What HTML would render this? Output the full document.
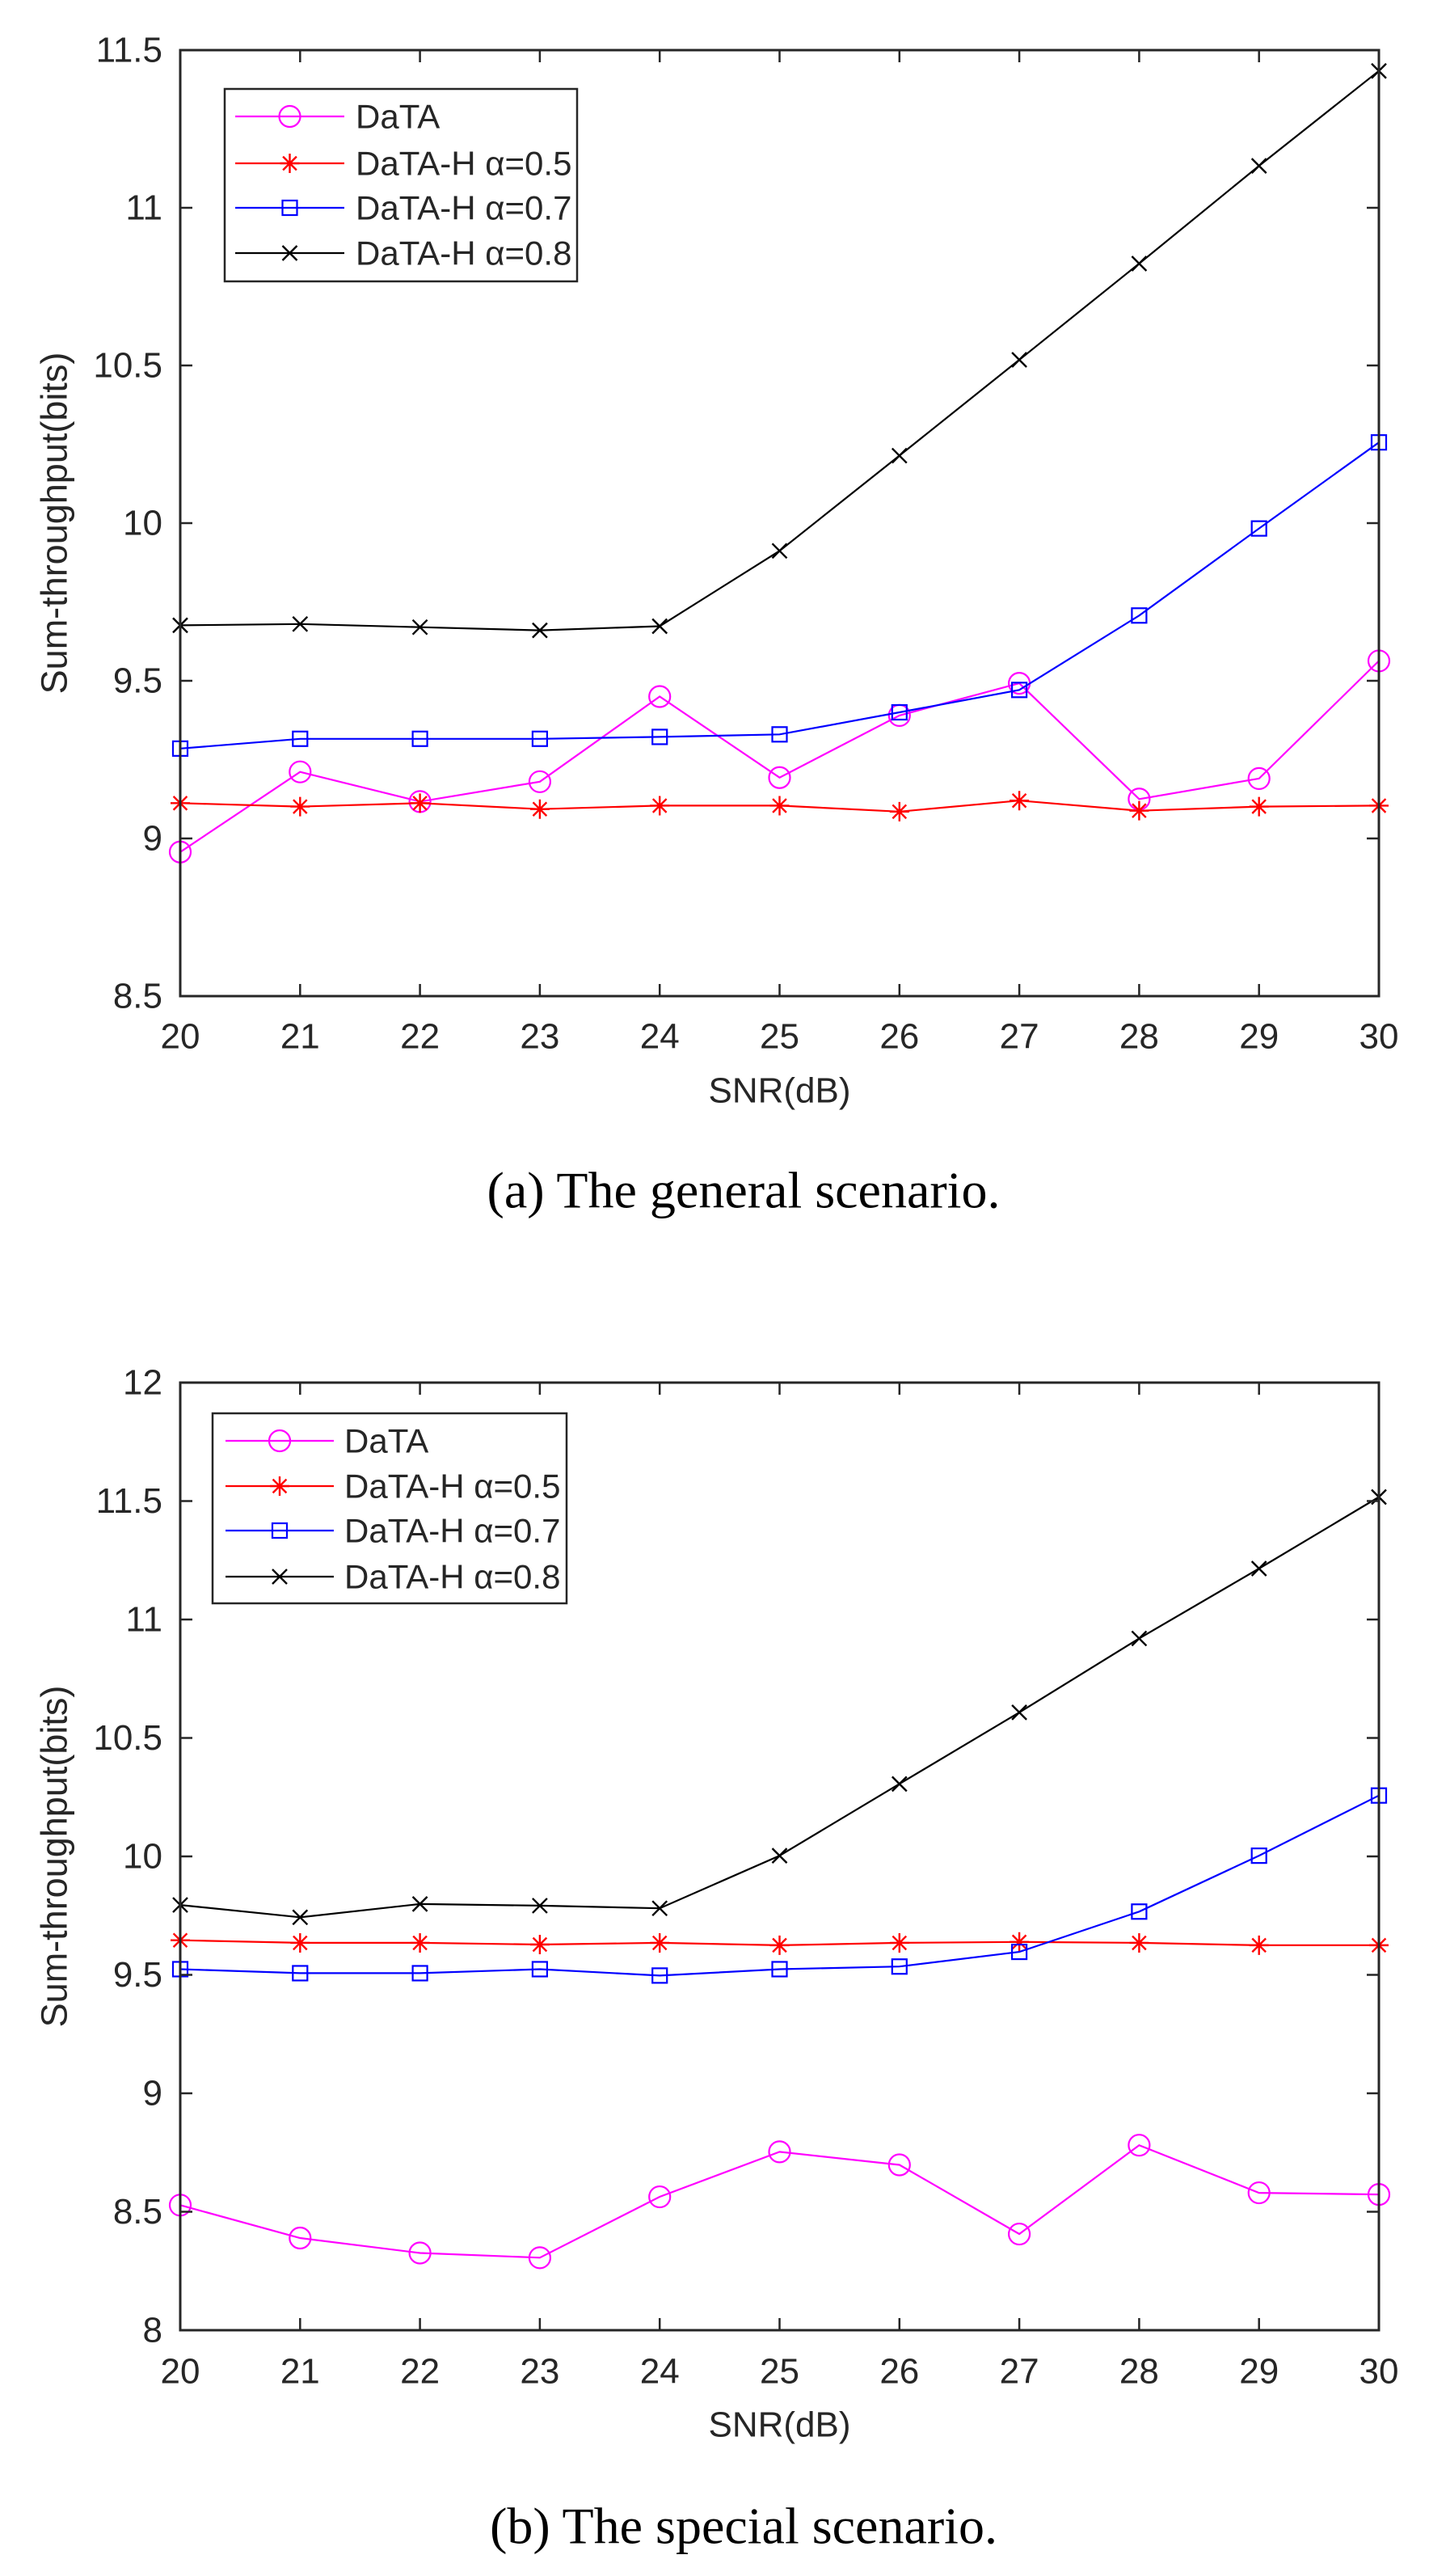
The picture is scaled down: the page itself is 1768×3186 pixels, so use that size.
<!DOCTYPE html>
<html>
<head>
<meta charset="utf-8">
<style>
html,body{margin:0;padding:0;background:#fff;}
svg{display:block;}
</style>
</head>
<body>
<svg id="fig" width="1768" height="3186" viewBox="0 0 1768 3186" xmlns="http://www.w3.org/2000/svg"></svg>
<script>
// ---- shared data ----
const snrValues = [20,21,22,23,24,25,26,27,28,29,30];
const seriesNames = ["DaTA","DaTA-H α=0.5","DaTA-H α=0.7","DaTA-H α=0.8"];

// ---- panel (a): general scenario ----
const generalData = [8.957,9.211,9.117,9.180,9.450,9.193,9.390,9.492,9.125,9.190,9.563];
const generalH05 = [9.112,9.101,9.112,9.093,9.104,9.104,9.085,9.120,9.088,9.101,9.104];
const generalH07 = [9.285,9.316,9.316,9.316,9.322,9.330,9.400,9.471,9.707,9.983,10.256];
const generalH08 = [9.676,9.680,9.670,9.660,9.673,9.912,10.214,10.518,10.823,11.133,11.434];
const generalYTicks = [8.5,9,9.5,10,10.5,11,11.5];

// ---- panel (b): special scenario ----
const specialData = [8.528,8.389,8.326,8.306,8.563,8.753,8.698,8.406,8.781,8.580,8.573];
const specialH05 = [9.646,9.635,9.635,9.628,9.635,9.625,9.635,9.639,9.635,9.625,9.625];
const specialH07 = [9.524,9.507,9.507,9.524,9.497,9.524,9.535,9.597,9.767,10.003,10.257];
const specialH08 = [9.795,9.743,9.799,9.792,9.781,10.003,10.306,10.608,10.920,11.215,11.517];
const specialYTicks = [8,8.5,9,9.5,10,10.5,11,11.5,12];

const NS = "http://www.w3.org/2000/svg";
const fig = document.getElementById('fig');
function mk(tag, attrs, parent){
  const e = document.createElementNS(NS, tag);
  for (const k in attrs) e.setAttribute(k, attrs[k]);
  (parent||fig).appendChild(e);
  return e;
}
const colors = ["#ff00ff","#ff0000","#0000ff","#000000"];
const markers = ["circle","star","square","x"];

function drawMarker(g, type, cx, cy, color){
  if (type === "circle"){
    const c = mk('circle',{cx:cx,cy:cy,r:13,fill:'none',stroke:color,'stroke-width':2.2},g);
    
    
  } else if (type === "square"){
    const s = mk('rect',{x:cx-9,y:cy-9,width:18,height:18,fill:'none',stroke:color,'stroke-width':2.2},g);
    
    
  } else if (type === "x"){
    const p = mk('path',{d:`M${cx-9} ${cy-9}L${cx+9} ${cy+9}M${cx+9} ${cy-9}L${cx-9} ${cy+9}`,stroke:color,'stroke-width':2.4,fill:'none'},g);
    
    
  } else {
    const r = 12, d = r*0.7;
    const p = mk('path',{d:`M${cx} ${cy-r}L${cx} ${cy+r}M${cx-r} ${cy}L${cx+r} ${cy}M${cx-d} ${cy-d}L${cx+d} ${cy+d}M${cx+d} ${cy-d}L${cx-d} ${cy+d}`,stroke:color,'stroke-width':2.4,fill:'none'},g);
    
    
  }
}

function panel(opt){
  const {left,right,top,bottom,yMin,yMax,yTicks,series,legend,caption,captionY,xLabelY,xTitleY,name} = opt;
  const g = mk('g',{});
  
  
  const xs = v => left + (v - snrValues[0])/(snrValues[snrValues.length-1]-snrValues[0])*(right-left);
  const ys = v => bottom - (v - yMin)/(yMax-yMin)*(bottom-top);

  // series
  series.forEach((arr, si) => {
    const sg = mk('g',{},g);
    
    
    const pts = arr.map((v,i)=>xs(snrValues[i]).toFixed(1)+','+ys(v).toFixed(1)).join(' ');
    const pl = mk('polyline',{points:pts,fill:'none',stroke:colors[si],'stroke-width':2.2},sg);
    
    
    arr.forEach((v,i)=>drawMarker(sg, markers[si], xs(snrValues[i]), ys(v), colors[si]));
  });

  // axes box
  const box = mk('rect',{x:left,y:top,width:right-left,height:bottom-top,fill:'none',stroke:'#262626','stroke-width':3},g);
  
  

  // x ticks
  snrValues.forEach(v=>{
    const x = xs(v);
    const t = mk('path',{d:`M${x} ${bottom}L${x} ${bottom-15}M${x} ${top}L${x} ${top+15}`,stroke:'#262626','stroke-width':2.5},g);
    
    
    const tx = mk('text',{x:x,y:xLabelY,'text-anchor':'middle','dominant-baseline':'central','font-family':'Liberation Sans, sans-serif','font-size':44,fill:'#262626'},g);
    tx.textContent = v;
    
    
  });
  // y ticks
  yTicks.forEach(v=>{
    const y = ys(v);
    const t = mk('path',{d:`M${left} ${y}L${left+15} ${y}M${right} ${y}L${right-15} ${y}`,stroke:'#262626','stroke-width':2.5},g);
    
    
    const tx = mk('text',{x:left-22,y:y,'text-anchor':'end','dominant-baseline':'central','font-family':'Liberation Sans, sans-serif','font-size':44,fill:'#262626'},g);
    tx.textContent = v;
    
    
  });
  // axis titles
  const xt = mk('text',{x:(left+right)/2,y:xTitleY,'text-anchor':'middle','dominant-baseline':'central','font-family':'Liberation Sans, sans-serif','font-size':44,fill:'#262626'},g);
  xt.textContent = 'SNR(dB)';
  
  
  const cy = (top+bottom)/2;
  const yt = mk('text',{x:67,y:cy,transform:`rotate(-90 67 ${cy})`,'text-anchor':'middle','dominant-baseline':'central','font-family':'Liberation Sans, sans-serif','font-size':45,fill:'#262626'},g);
  yt.textContent = 'Sum-throughput(bits)';
  
  

  // legend
  const lg = mk('g',{},g);
  
  
  const lb = mk('rect',{x:legend.x,y:legend.y,width:legend.w,height:legend.h,fill:'#fff',stroke:'#262626','stroke-width':2.5},lg);
  
  
  seriesNames.forEach((nm,i)=>{
    const ey = legend.rows[i];
    const eg = mk('g',{},lg);
    
    
    mk('line',{x1:legend.lx1,y1:ey,x2:legend.lx2,y2:ey,stroke:colors[i],'stroke-width':2.2},eg);
    drawMarker(eg, markers[i], (legend.lx1+legend.lx2)/2, ey, colors[i]);
    const t = mk('text',{x:legend.tx,y:ey,'dominant-baseline':'central','font-family':'Liberation Sans, sans-serif','font-size':42,fill:'#262626'},eg);
    t.textContent = nm;
    
    
  });

  // caption
  const cap = mk('text',{x:920,y:captionY,'text-anchor':'middle','dominant-baseline':'central','font-family':'Liberation Serif, serif','font-size':64,fill:'#000','xml:space':'preserve'},g);
  cap.textContent = caption;
  
  
}

panel({
  name:'panel-general-scenario',
  left:223,right:1706,top:62,bottom:1232,yMin:8.5,yMax:11.5,yTicks:generalYTicks,
  series:[generalData,generalH05,generalH07,generalH08],
  legend:{x:278,y:110,w:436,h:238,rows:[144,202,257,313],lx1:291,lx2:426,tx:440},
  caption:'(a)  The general scenario.',captionY:1472,xLabelY:1282,xTitleY:1349
});
panel({
  name:'panel-special-scenario',
  left:223,right:1706,top:1710,bottom:2882,yMin:8,yMax:12,yTicks:specialYTicks,
  series:[specialData,specialH05,specialH07,specialH08],
  legend:{x:263,y:1748,w:438,h:235,rows:[1782,1838,1893,1950],lx1:279,lx2:413,tx:426},
  caption:'(b)  The special scenario.',captionY:3124,xLabelY:2933,xTitleY:2999
});
</script>
</body>
</html>
